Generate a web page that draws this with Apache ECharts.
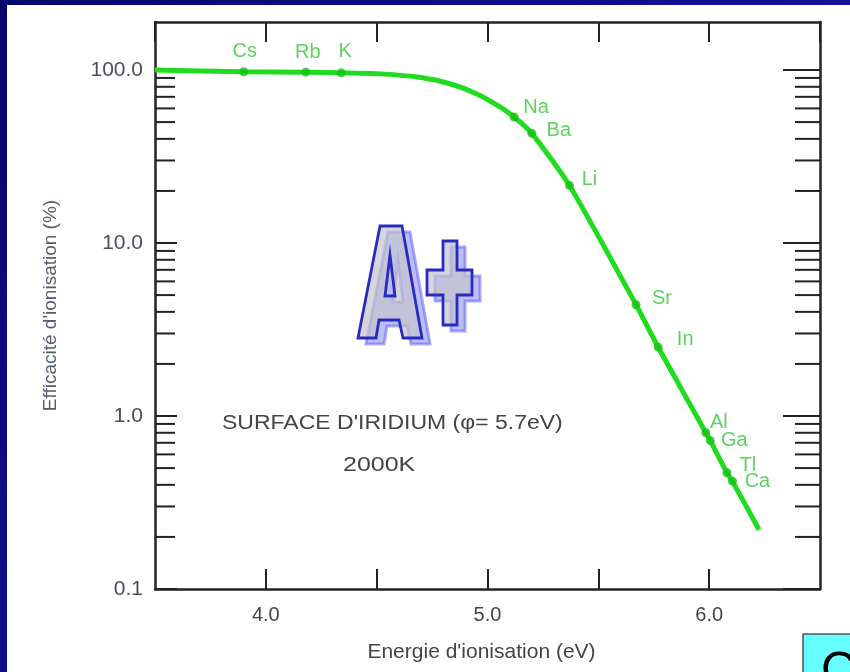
<!DOCTYPE html>
<html>
<head>
<meta charset="utf-8">
<script src="https://cdn.jsdelivr.net/npm/echarts@6/dist/echarts.min.js"></script>
<style>
  html, body { margin: 0; padding: 0; background: #ffffff; }
  #chart { width: 850px; height: 672px; }
</style>
</head>
<body>
<div id="chart"></div>
<script>
// Ionisation efficiency on an iridium surface at 2000 K versus ionisation energy
const curveEnergies = [3.5, 3.90, 4.18, 4.34, 4.52, 4.70, 4.835, 4.95, 5.04, 5.12, 5.20, 5.37, 5.67, 5.77, 5.985, 6.005, 6.08, 6.105, 6.225];
const curveEfficiencies = [100, 97.8, 97.2, 96.3, 95, 90.5, 83, 73, 63, 53.5, 43, 21.5, 4.4, 2.5, 0.80, 0.72, 0.47, 0.42, 0.22];

const elements = ['Cs', 'Rb', 'K', 'Na', 'Ba', 'Li', 'Sr', 'In', 'Al', 'Ga', 'Tl', 'Ca'];
const elementEnergies = [3.90, 4.18, 4.34, 5.12, 5.20, 5.37, 5.67, 5.77, 5.985, 6.005, 6.08, 6.105];
const elementEfficiencies = [97.8, 97.2, 96.3, 53.5, 43, 21.5, 4.4, 2.5, 0.80, 0.72, 0.47, 0.42];

const xTickLabels = ['4.0', '5.0', '6.0'];
const yTickLabels = ['0.1', '1.0', '10.0', '100.0'];
const yMajorTicks = [0.1, 1, 10, 100];
const yMinorTicks = [0.2, 0.3, 0.4, 0.5, 0.6, 0.7, 0.8, 0.9,
                     2, 3, 4, 5, 6, 7, 8, 9,
                     20, 30, 40, 50, 60, 70, 80, 90];

// label placement for each element name, relative to its marker
const labelOffsets = {
  Cs: [1, -20], Rb: [2, -20], K: [4, -21], Na: [22, -10], Ba: [27, -3], Li: [20, -6],
  Sr: [26, -6], In: [27, -8], Al: [13, -10], Ga: [24, 0], Tl: [21, -7], Ca: [25, 0]
};

const GREEN = '#1fdc1f';
const AXIS = '#222222';
const FONT = '"Liberation Sans", Arial, sans-serif';

// outline of the "A+" emblem
const glyphA = [[380,226],[402,226],[422,338],[403,338],[399,320],[379,320],[376,338],[358,338]];
const glyphAHole = [[390,255],[385,296],[395,296]];
const glyphPlus = [[443,241],[457,241],[457,270],[472,270],[472,295],[457,295],[457,325],[443,325],[443,295],[427,295],[427,270],[443,270]];

function emblem(dx, dy, fill, stroke, lw) {
  const filledA = glyphA.concat([glyphA[0]], glyphAHole, [glyphAHole[0]]);
  return {
    type: 'group', x: dx, y: dy, z: 5,
    children: [
      { type: 'polygon', shape: { points: filledA }, style: { fill: fill, stroke: null } },
      { type: 'polygon', shape: { points: glyphA }, style: { fill: null, stroke: stroke, lineWidth: lw, lineJoin: 'miter' } },
      { type: 'polygon', shape: { points: glyphAHole }, style: { fill: null, stroke: stroke, lineWidth: lw } },
      { type: 'polygon', shape: { points: glyphPlus }, style: { fill: fill, stroke: stroke, lineWidth: lw } }
    ]
  };
}

const chart = echarts.init(document.getElementById('chart'), null, { renderer: 'canvas' });

const xAxisCommon = {
  type: 'value', min: 3.5, max: 6.5, interval: 0.5,
  axisLine: { show: true, onZero: false, lineStyle: { color: AXIS, width: 2.5 } },
  axisTick: { show: true, inside: true, length: 20, lineStyle: { color: AXIS, width: 2 } },
  splitLine: { show: false }
};

const yAxisCommon = {
  type: 'log', logBase: 10, min: 0.1, max: 189.5,
  axisLine: { show: true, onZero: false, lineStyle: { color: AXIS, width: 2.5 } },
  axisTick: { show: false },
  minorTick: { show: false },
  splitLine: { show: false }
};

const tickData = yMajorTicks.map(v => [3.5, v, 1]).concat(yMinorTicks.map(v => [3.5, v, 0]));

chart.setOption({
  animation: false,
  grid: { left: 155, right: 30, top: 22, bottom: 83, containLabel: false },
  xAxis: [
    Object.assign({}, xAxisCommon, {
      position: 'bottom',
      axisLabel: {
        show: true, margin: 16, color: '#444', fontSize: 20, fontFamily: FONT,
        showMinLabel: false, showMaxLabel: false,
        formatter: v => (xTickLabels.indexOf(v.toFixed(1)) >= 0 ? v.toFixed(1) : '')
      },
      name: "Energie d'ionisation (eV)",
      nameLocation: 'middle', nameGap: 53,
      nameTextStyle: { color: '#444', fontSize: 21, fontFamily: FONT, padding: [0, 12, 0, 0] }
    }),
    Object.assign({}, xAxisCommon, { position: 'top', axisLabel: { show: false } })
  ],
  yAxis: [
    Object.assign({}, yAxisCommon, {
      position: 'left',
      axisLabel: {
        show: true, margin: 12, color: '#4a4f5c', fontSize: 21, fontFamily: FONT,
        formatter: v => {
          const l = Math.log10(v);
          const r = Math.round(l);
          if (Math.abs(l - r) > 1e-6) return '';
          const i = yMajorTicks.findIndex(t => Math.abs(Math.log10(t) - r) < 1e-6);
          return i >= 0 ? yTickLabels[i] : '';
        }
      },
      name: "Efficacité d'ionisation (%)",
      nameLocation: 'middle', nameGap: 95, nameRotate: 90,
      nameTextStyle: { color: '#555b70', fontSize: 19, fontFamily: FONT }
    }),
    Object.assign({}, yAxisCommon, { position: 'right', axisLabel: { show: false } })
  ],
  graphic: {
    elements: [
      {
        type: 'rect', z: -100, silent: true,
        shape: { x: 0, y: 0, width: 850, height: 672 },
        style: {
          fill: new echarts.graphic.LinearGradient(0, 0, 1, 1, [
            { offset: 0, color: '#07076c' }, { offset: 1, color: '#1a1ab8' }
          ])
        }
      },
      { type: 'rect', z: -99, silent: true, shape: { x: 7, y: 5, width: 843, height: 667 }, style: { fill: '#ffffff' } },
      emblem(8, 6, 'rgba(110,110,235,0.45)', 'rgba(100,100,250,0.55)', 3),
      emblem(0, 0, 'rgba(195,195,205,0.7)', '#2a2ac2', 2.8),
      {
        type: 'text', z: 10, x: 222, y: 423, scaleX: 1.15,
        style: { text: "SURFACE D'IRIDIUM (\u03c6= 5.7eV)", fill: '#444', font: '20px ' + FONT, align: 'left', verticalAlign: 'middle' }
      },
      {
        type: 'text', z: 10, x: 343, y: 465, scaleX: 1.25,
        style: { text: '2000K', fill: '#444', font: '20px ' + FONT, align: 'left', verticalAlign: 'middle' }
      },
      {
        type: 'rect', z: 10, shape: { x: 803, y: 634, width: 60, height: 60 },
        style: { fill: '#66ffff', stroke: '#555', lineWidth: 1.5 }
      },
      {
        type: 'text', z: 11, x: 821, y: 648,
        style: { text: 'C', fill: '#000', font: '48px ' + FONT, align: 'left', verticalAlign: 'top' }
      }
    ]
  },
  series: [
    {
      type: 'line', name: 'efficacite', xAxisIndex: 0, yAxisIndex: 0,
      data: curveEnergies.map((e, i) => [e, curveEfficiencies[i]]),
      smooth: 0.2, symbol: 'none',
      lineStyle: { color: GREEN, width: 5 }, z: 3
    },
    {
      type: 'scatter', name: 'elements', xAxisIndex: 0, yAxisIndex: 0,
      symbol: 'circle', symbolSize: 9,
      itemStyle: { color: '#15c015' },
      data: elements.map((n, i) => ({
        name: n, value: [elementEnergies[i], elementEfficiencies[i]],
        label: { offset: labelOffsets[n] }
      })),
      label: {
        show: true, position: 'inside', formatter: '{b}', color: '#34c834',
        fontSize: 20, fontFamily: FONT, align: 'center', verticalAlign: 'middle'
      },
      z: 4
    },
    {
      type: 'custom', name: 'yticks', xAxisIndex: 0, yAxisIndex: 0,
      data: tickData, silent: true, clip: false, z: 2,
      renderItem: function (params, api) {
        const y = api.coord([api.value(0), api.value(1)])[1];
        const cs = params.coordSys;
        const major = api.value(2) === 1;
        const lenL = major ? 22 : 20;
        const lenR = major ? 37 : 25;
        const style = { stroke: AXIS, lineWidth: 2 };
        return {
          type: 'group',
          children: [
            { type: 'line', shape: { x1: cs.x, y1: y, x2: cs.x + lenL, y2: y }, style: style },
            { type: 'line', shape: { x1: cs.x + cs.width - lenR, y1: y, x2: cs.x + cs.width, y2: y }, style: style }
          ]
        };
      }
    }
  ]
});
</script>
</body>
</html>
